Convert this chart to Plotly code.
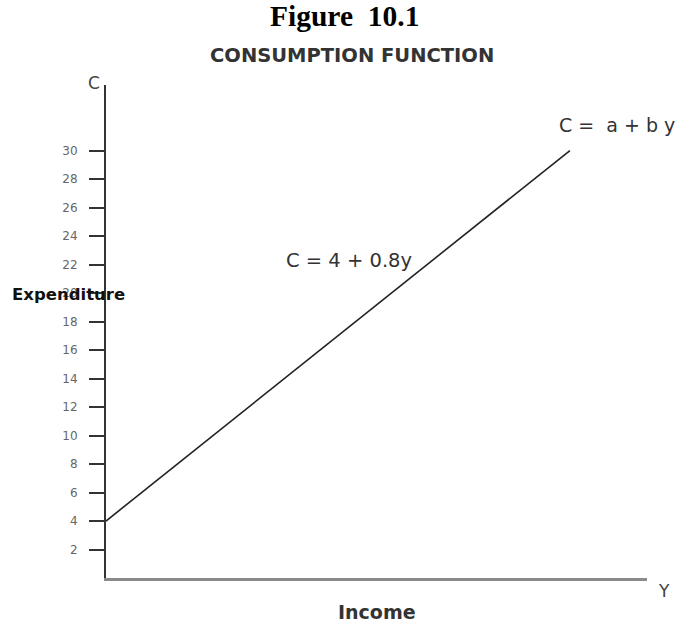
import plotly.graph_objects as go

# Data
income = [0, 32.5]
consumption = [4, 30]          # C = 4 + 0.8y
y_ticks = [2, 4, 6, 8, 10, 12, 14, 16, 18, 20, 22, 24, 26, 28, 30]
y_tick_labels = [str(v) for v in y_ticks]

fig = go.Figure()
fig.add_trace(go.Scatter(x=income, y=consumption, mode="lines",
                         line=dict(color="#222222", width=1.6),
                         hoverinfo="skip", showlegend=False))

fig.update_layout(
    width=683, height=624,
    margin=dict(l=106, r=36, t=85, b=46),
    paper_bgcolor="white", plot_bgcolor="white",
    xaxis=dict(range=[0, 37.9], showgrid=False, zeroline=False,
               showticklabels=False, ticks="",
               showline=True, linecolor="#8a8a8a", linewidth=3),
    yaxis=dict(range=[0, 34.6], showgrid=False, zeroline=False,
               tickvals=y_ticks, ticktext=y_tick_labels,
               ticks="outside", ticklen=15, tickwidth=2, tickcolor="#333333",
               tickfont=dict(family="DejaVu Sans", size=12, color="#666666"),
               ticklabelstandoff=9,
               showline=True, linecolor="#333333", linewidth=2),
    font=dict(family="DejaVu Sans"),
)

ann = [
    dict(text="<b>Figure  10.1</b>", x=0.440, y=1.139, xref="paper", yref="paper",
         font=dict(family="Liberation Serif", size=29.5, color="black")),
    dict(text="<b>CONSUMPTION FUNCTION</b>", x=0.455, y=1.059, xref="paper", yref="paper",
         font=dict(family="DejaVu Sans", size=19.5, color="#333333")),
    dict(text="C", x=-0.022, y=1.004, xref="paper", yref="paper",
         font=dict(family="DejaVu Sans", size=17, color="#444444")),
    dict(text="<b>Expenditure</b>", x=-0.070, y=0.576, xref="paper", yref="paper",
         font=dict(family="DejaVu Sans", size=16.5, color="#111111")),
    dict(text="Y", x=1.031, y=-0.026, xref="paper", yref="paper",
         font=dict(family="DejaVu Sans", size=17, color="#444444")),
    dict(text="<b>Income</b>", x=0.501, y=-0.069, xref="paper", yref="paper",
         font=dict(family="DejaVu Sans", size=19, color="#333333")),
    dict(text="C = 4 + 0.8y", x=17.0, y=22.3, xref="x", yref="y",
         font=dict(family="DejaVu Sans", size=19.5, color="#333333")),
    dict(text="C =  a + b y", x=35.8, y=31.8, xref="x", yref="y",
         font=dict(family="DejaVu Sans", size=19, color="#333333")),
]
for a in ann:
    a.update(showarrow=False, xanchor="center", yanchor="middle")
fig.update_layout(annotations=ann)

fig.write_html("out.html", config={"displayModeBar": False},
               post_script="document.body.style.margin='0';")
